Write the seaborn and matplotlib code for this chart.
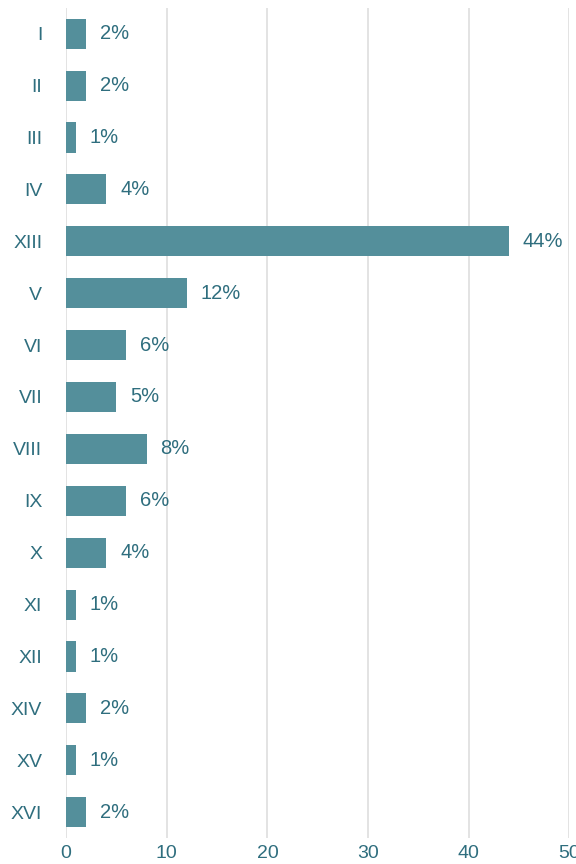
import numpy as np
import pandas as pd
import matplotlib.pyplot as plt
import seaborn as sns

# data
categories = ['I', 'II', 'III', 'IV', 'XIII', 'V', 'VI', 'VII', 'VIII',
              'IX', 'X', 'XI', 'XII', 'XIV', 'XV', 'XVI']
values = [2, 2, 1, 4, 44, 12, 6, 5, 8, 6, 4, 1, 1, 2, 1, 2]
x_ticks = [0, 10, 20, 30, 40, 50]

bar_color = '#548f9b'
text_color = '#2f6e7e'

sns.set_theme(style='white')
plt.rcParams['font.family'] = ['Liberation Sans', 'DejaVu Sans']

df = pd.DataFrame({'cat': categories, 'val': values})

fig = plt.figure(figsize=(5.76, 8.64), dpi=100)
ax = fig.add_axes([0.1146, 0.030, 0.874, 0.961])

sns.barplot(data=df, x='val', y='cat', orient='h', color=bar_color,
            saturation=1, width=0.58, linewidth=0, ax=ax, zorder=3)

# value labels
for i, v in enumerate(values):
    ax.annotate(f'{v}%', xy=(v, i), xytext=(10, 0), textcoords='offset points',
                va='center', ha='left', fontsize=14.5, color=text_color)

ax.set_xlim(0, 50)
ax.set_ylim(len(categories) - 0.5, -0.5)
ax.set_xticks(x_ticks)
ax.set_xlabel('')
ax.set_ylabel('')
ax.xaxis.grid(True, color='#e3e3e3', linewidth=1.4, zorder=0)
ax.yaxis.grid(False)
for s in ax.spines.values():
    s.set_visible(False)
ax.tick_params(axis='both', length=0, labelsize=14, labelcolor=text_color)
ax.tick_params(axis='y', pad=17)
ax.tick_params(axis='x', pad=5)

fig.savefig('out.png', dpi=100)
